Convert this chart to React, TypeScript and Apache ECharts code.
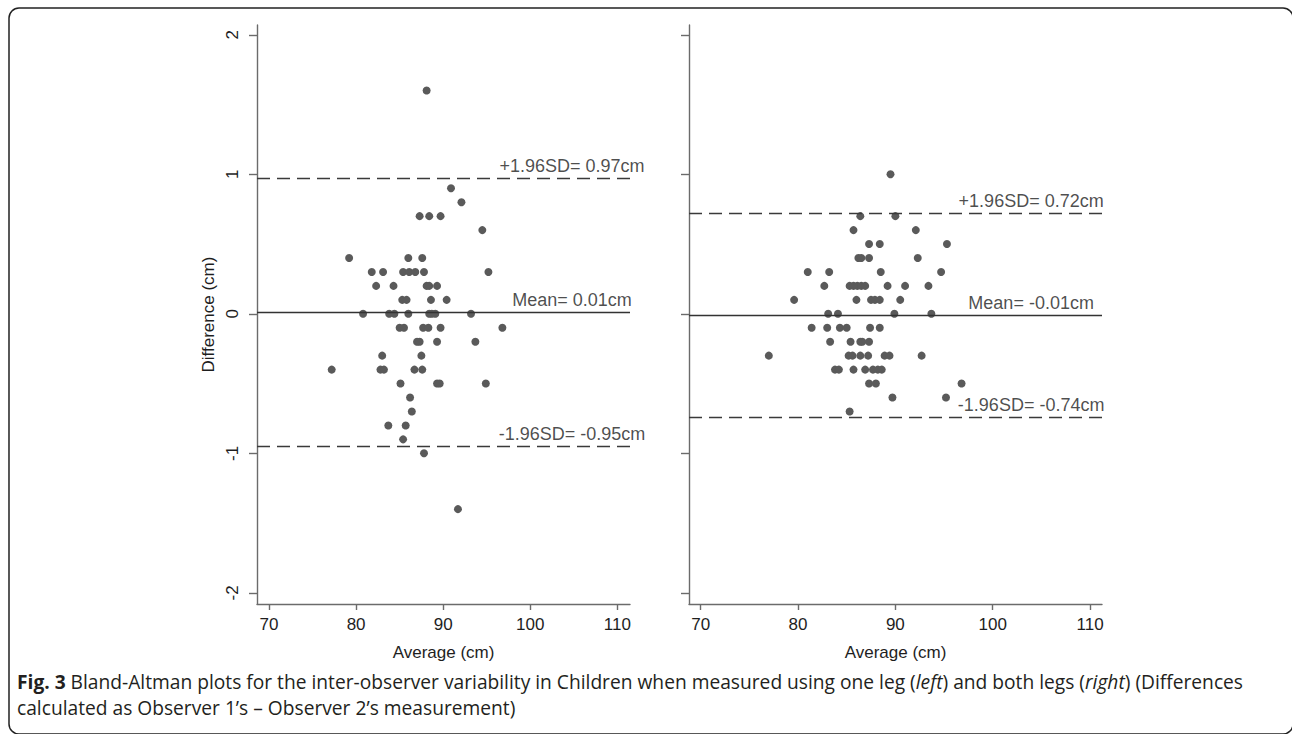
import React, { useEffect, useRef } from "react";
import * as echarts from "echarts";

// Left panel (one leg): average (cm) and difference (cm)
const leftAvg = [
  88.1,
  90.9,
  92.1,
  87.3, 88.4, 89.7,
  94.5,
  79.2, 86.0, 87.6,
  81.8, 83.1, 85.4, 86.1, 86.8, 87.8, 95.2,
  82.3, 84.3, 88.1, 88.4, 89.3,
  85.3, 85.8, 88.6, 90.4,
  80.8, 83.8, 84.4, 86.0, 88.4, 88.7, 89.1, 93.2,
  85.0, 85.5, 87.7, 88.3, 89.7, 96.8,
  87.0, 87.3, 89.3, 93.7,
  83.0, 87.5,
  77.2, 82.8, 83.2, 86.7, 87.6,
  85.1, 89.3, 89.6, 94.9,
  86.2,
  86.4,
  83.7, 85.7,
  85.4,
  87.8,
  91.7,
];
const leftDiff = [
  1.6,
  0.9,
  0.8,
  0.7, 0.7, 0.7,
  0.6,
  0.4, 0.4, 0.4,
  0.3, 0.3, 0.3, 0.3, 0.3, 0.3, 0.3,
  0.2, 0.2, 0.2, 0.2, 0.2,
  0.1, 0.1, 0.1, 0.1,
  0, 0, 0, 0, 0, 0, 0, 0,
  -0.1, -0.1, -0.1, -0.1, -0.1, -0.1,
  -0.2, -0.2, -0.2, -0.2,
  -0.3, -0.3,
  -0.4, -0.4, -0.4, -0.4, -0.4,
  -0.5, -0.5, -0.5, -0.5,
  -0.6,
  -0.7,
  -0.8, -0.8,
  -0.9,
  -1.0,
  -1.4,
];

// Right panel (both legs)
const rightAvg = [
  89.5,
  86.4, 90.0,
  85.7, 92.1,
  87.3, 88.4, 95.3,
  86.2, 86.5, 87.3, 92.3,
  81.0, 83.2, 88.5, 94.7,
  82.7, 85.3, 85.7, 86.1, 86.5, 86.9, 89.2, 91.0, 93.4,
  79.6, 86.0, 87.5, 87.9, 88.4, 90.5,
  83.1, 84.1, 89.9, 93.7,
  81.4, 83.0, 84.3, 85.0, 87.4, 88.4,
  83.3, 85.4, 86.4, 86.6, 87.3,
  77.0, 85.2, 85.6, 86.4, 87.2, 88.9, 89.4, 92.7,
  83.8, 84.2, 85.7, 86.9, 87.7, 88.2, 88.6,
  87.3, 88.0, 96.8,
  89.7, 95.2,
  85.3,
];
const rightDiff = [
  1.0,
  0.7, 0.7,
  0.6, 0.6,
  0.5, 0.5, 0.5,
  0.4, 0.4, 0.4, 0.4,
  0.3, 0.3, 0.3, 0.3,
  0.2, 0.2, 0.2, 0.2, 0.2, 0.2, 0.2, 0.2, 0.2,
  0.1, 0.1, 0.1, 0.1, 0.1, 0.1,
  0, 0, 0, 0,
  -0.1, -0.1, -0.1, -0.1, -0.1, -0.1,
  -0.2, -0.2, -0.2, -0.2, -0.2,
  -0.3, -0.3, -0.3, -0.3, -0.3, -0.3, -0.3, -0.3,
  -0.4, -0.4, -0.4, -0.4, -0.4, -0.4, -0.4,
  -0.5, -0.5, -0.5,
  -0.6, -0.6,
  -0.7,
];

// Reference lines: upper limit, mean, lower limit
const leftLines = [0.97, 0.01, -0.95];
const leftLineText = ["+1.96SD= 0.97cm", "Mean= 0.01cm", "-1.96SD= -0.95cm"];
const rightLines = [0.72, -0.01, -0.74];
const rightLineText = ["+1.96SD= 0.72cm", "Mean= -0.01cm", "-1.96SD= -0.74cm"];

const xTicks = [70, 80, 90, 100, 110];
const yTicks = [-2, -1, 0, 1, 2];
const xTitle = "Average (cm)";
const yTitle = "Difference (cm)";

const captionBold = "Fig. 3";
const captionLine1a = " Bland-Altman plots for the inter-observer variability in Children when measured using one leg (";
const captionLeft = "left";
const captionLine1b = ") and both legs (";
const captionRight = "right";
const captionLine1c = ") (Differences";
const captionLine2 = "calculated as Observer 1\u2019s \u2013 Observer 2\u2019s measurement)";

const FONT = "'Liberation Sans', Arial, Helvetica, sans-serif";
const AXIS_COLOR = "#6b6b6b";
const TEXT_COLOR = "#1e1e1e";
const DOT_COLOR = "#5a5a5a";

function makeXAxis(gridIndex: number, min: number, max: number) {
  return {
    type: "value",
    gridIndex,
    min,
    max,
    name: xTitle,
    nameLocation: "middle",
    nameGap: 40,
    nameTextStyle: { fontSize: 17, color: TEXT_COLOR, fontFamily: FONT },
    splitLine: { show: false },
    axisLine: { onZero: false, lineStyle: { color: AXIS_COLOR, width: 1.4 } },
    axisTick: { length: 6, customValues: xTicks, lineStyle: { color: AXIS_COLOR, width: 1.4 } },
    axisLabel: {
      customValues: xTicks,
      fontSize: 17,
      color: TEXT_COLOR,
      fontFamily: FONT,
      margin: 12,
    },
  };
}

function makeYAxis(gridIndex: number, showLabels: boolean) {
  return {
    type: "value",
    gridIndex,
    min: -2.08,
    max: 2.07,
    name: showLabels ? yTitle : "",
    nameLocation: "middle",
    nameGap: 40,
    nameRotate: 90,
    nameTextStyle: { fontSize: 17, color: TEXT_COLOR, fontFamily: FONT },
    splitLine: { show: false },
    axisLine: { onZero: false, lineStyle: { color: AXIS_COLOR, width: 1.4 } },
    axisTick: { length: 8, customValues: yTicks, lineStyle: { color: AXIS_COLOR, width: 1.4 } },
    axisLabel: {
      show: showLabels,
      customValues: yTicks,
      rotate: 90,
      fontSize: 17,
      color: TEXT_COLOR,
      fontFamily: FONT,
      margin: 16,
    },
  };
}

function pairs(xs: number[], ys: number[]) {
  return xs.map((x, i) => [x, ys[i]]);
}

function lineSeries(idx: number, values: number[], texts: string[], labelX: number) {
  return [
    {
      type: "scatter",
      xAxisIndex: idx,
      yAxisIndex: idx,
      data: [],
      silent: true,
      markLine: {
        silent: true,
        symbol: ["none", "none"],
        label: { show: false },
        data: values.map((v, i) => ({
          yAxis: v,
          lineStyle: {
            color: i === 1 ? "#333333" : "#3a3a3a",
            width: 1.4,
            type: i === 1 ? "solid" : [13, 7],
          },
        })),
      },
    },
    {
      type: "scatter",
      xAxisIndex: idx,
      yAxisIndex: idx,
      symbolSize: 0,
      silent: true,
      data: values.map((v, i) => ({ value: [labelX, v], name: texts[i] })),
      label: {
        show: true,
        position: "top",
        distance: 3,
        formatter: (p: any) => p.name,
        fontSize: 18,
        color: TEXT_COLOR,
        fontFamily: FONT,
      },
    },
  ];
}

export default function App() {
  const ref = useRef<HTMLDivElement>(null);
  useEffect(() => {
    if (!ref.current) return;
    const chart = echarts.init(ref.current, undefined, { renderer: "svg" });
    const capFont = "'Open Sans', 'Noto Sans', sans-serif";
    const capSize = 19.2;
    chart.setOption({
      animation: false,
      backgroundColor: "#ffffff",
      grid: [
        { left: 257, top: 25, width: 373, height: 579 },
        { left: 689, top: 25, width: 413, height: 579 },
      ],
      xAxis: [makeXAxis(0, 68.62, 111.46), makeXAxis(1, 68.8, 111.23)],
      yAxis: [makeYAxis(0, true), makeYAxis(1, false)],
      series: [
        {
          type: "scatter",
          xAxisIndex: 0,
          yAxisIndex: 0,
          symbolSize: 8,
          itemStyle: { color: DOT_COLOR, opacity: 1 },
          data: pairs(leftAvg, leftDiff),
          z: 3,
        },
        {
          type: "scatter",
          xAxisIndex: 1,
          yAxisIndex: 1,
          symbolSize: 8,
          itemStyle: { color: DOT_COLOR, opacity: 1 },
          data: pairs(rightAvg, rightDiff),
          z: 3,
        },
        ...lineSeries(0, leftLines, leftLineText, 104.8),
        ...lineSeries(1, rightLines, rightLineText, 103.95),
      ],
      graphic: [
        {
          type: "rect",
          shape: { x: 9, y: 8, width: 1284, height: 726, r: 10 },
          style: { fill: "none", stroke: "#222222", lineWidth: 1.5 },
          silent: true,
        },
        {
          type: "text",
          x: 17,
          y: 681.3,
          style: {
            text:
              "{b|" + captionBold + "}" + captionLine1a + "{i|" + captionLeft + "}" +
              captionLine1b + "{i|" + captionRight + "}" + captionLine1c,
            fontSize: capSize,
            fontFamily: capFont,
            fill: "#231f20",
            verticalAlign: "middle",
            rich: {
              b: { fontWeight: "bold", fontSize: capSize, fontFamily: capFont, fill: "#231f20" },
              i: { fontStyle: "italic", fontSize: capSize, fontFamily: capFont, fill: "#231f20" },
            },
          },
        },
        {
          type: "text",
          x: 17,
          y: 707.8,
          style: {
            text: captionLine2,
            fontSize: capSize,
            fontFamily: capFont,
            fill: "#231f20",
            verticalAlign: "middle",
          },
        },
      ],
    });
    return () => chart.dispose();
  }, []);
  return (
    <div
      ref={ref}
      style={{ position: "absolute", left: 0, top: 0, width: 1292, height: 734 }}
    />
  );
}
